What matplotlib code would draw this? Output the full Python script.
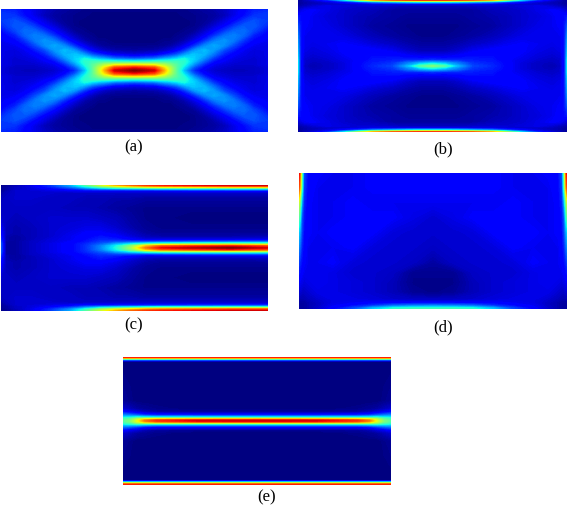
import numpy as np
import matplotlib
matplotlib.use("Agg")
import matplotlib.pyplot as plt

W, H = 567, 505

# ---- panel (a): upper-right quadrant, mirrored in both directions
a_dx = [0, 20, 30, 36, 42, 50, 60, 70, 80, 90, 100, 110, 120, 134]
a_dy = [0, 3, 6, 9, 12, 16, 20, 25, 30, 35, 40, 45, 50, 55, 61.5]
a_val = [
    [1.0, .93, .72, .58, .46, .30, .16, .10, .07, .06, .05, .05, .06, .08],
    [.88, .82, .66, .56, .46, .34, .20, .12, .08, .07, .06, .06, .06, .08],
    [.62, .60, .55, .50, .45, .38, .26, .16, .10, .08, .07, .07, .07, .09],
    [.38, .40, .42, .42, .42, .40, .31, .21, .13, .10, .08, .07, .07, .09],
    [.20, .23, .28, .30, .33, .37, .33, .26, .17, .12, .09, .08, .07, .09],
    [.08, .10, .14, .17, .20, .27, .32, .30, .23, .15, .11, .09, .08, .09],
    [.03, .04, .06, .08, .11, .17, .27, .31, .27, .19, .14, .10, .08, .09],
    [.01, .01, .02, .03, .05, .09, .16, .25, .29, .26, .19, .13, .10, .09],
    [.00, .00, .01, .01, .02, .04, .09, .16, .24, .27, .24, .17, .12, .10],
    [.00, .00, .00, .00, .01, .02, .05, .10, .17, .23, .25, .22, .15, .11],
    [.00, .00, .00, .00, .00, .01, .02, .06, .11, .17, .22, .23, .19, .13],
    [.00, .00, .00, .00, .00, .00, .01, .03, .07, .11, .17, .21, .21, .16],
    [.00, .00, .00, .00, .00, .00, .01, .02, .04, .08, .12, .17, .20, .18],
    [.00, .00, .00, .00, .00, .01, .01, .02, .03, .05, .09, .13, .17, .18],
    [.01, .01, .01, .01, .01, .01, .02, .03, .04, .06, .09, .12, .15, .16],
]

# ---- panel (b): upper-right quadrant
b_dx = [0, 12, 25, 40, 60, 75, 90, 105, 120, 128, 132, 134.5]
b_dy = [0, 3, 6, 10, 15, 22, 30, 40, 50, 56, 60, 62, 64, 66]
b_val = [
    [.50, .44, .30, .19, .16, .12, .08, .06, .04, .06, .14, .34],
    [.33, .30, .24, .17, .15, .12, .08, .06, .05, .07, .14, .34],
    [.17, .16, .16, .15, .14, .11, .09, .07, .06, .07, .14, .34],
    [.10, .10, .11, .13, .13, .12, .10, .08, .07, .08, .14, .32],
    [.05, .05, .07, .10, .12, .12, .11, .09, .08, .09, .14, .30],
    [.03, .03, .04, .06, .08, .10, .11, .10, .09, .10, .14, .28],
    [.01, .01, .02, .03, .05, .07, .09, .10, .10, .10, .14, .25],
    [.01, .01, .01, .02, .03, .05, .07, .09, .10, .11, .14, .20],
    [.02, .02, .02, .03, .04, .05, .07, .08, .10, .12, .13, .14],
    [.03, .03, .03, .03, .05, .06, .07, .09, .11, .10, .08, .07],
    [.05, .05, .05, .06, .07, .07, .08, .09, .07, .05, .04, .04],
    [.10, .10, .10, .09, .09, .08, .07, .06, .05, .04, .03, .03],
    [.35, .35, .33, .30, .25, .18, .12, .08, .05, .04, .03, .03],
    [.85, .85, .83, .80, .70, .52, .32, .16, .08, .05, .03, .03],
]

# ---- panel (c): upper half, mirrored vertically
c_x = [0, 5, 15, 30, 50, 70, 85, 100, 115, 130, 145, 160, 190, 230, 267]
c_dy = [0, 2, 4, 6, 8, 11, 15, 20, 30, 40, 50, 55, 57, 58.5, 60, 61.5, 63]
c_val = [
    [.20, .03, .03, .06, .09, .12, .17, .26, .38, .55, .78, .90, .95, 1.0, .92],
    [.20, .03, .03, .06, .09, .12, .17, .25, .36, .50, .68, .78, .82, .85, .80],
    [.20, .03, .03, .06, .09, .12, .16, .21, .28, .34, .40, .44, .46, .47, .46],
    [.18, .03, .03, .06, .08, .11, .14, .18, .20, .20, .20, .21, .22, .23, .23],
    [.16, .04, .03, .05, .08, .10, .13, .16, .15, .12, .09, .09, .09, .09, .10],
    [.14, .04, .03, .05, .07, .10, .12, .14, .12, .08, .05, .04, .04, .04, .05],
    [.12, .05, .04, .05, .07, .09, .11, .11, .09, .06, .03, .02, .02, .02, .02],
    [.10, .05, .04, .05, .07, .08, .09, .09, .07, .04, .02, .01, .01, .01, .01],
    [.07, .06, .05, .06, .07, .07, .07, .06, .05, .03, .01, .01, .00, .00, .00],
    [.06, .06, .06, .06, .06, .05, .05, .04, .03, .02, .01, .01, .01, .01, .01],
    [.05, .06, .07, .07, .06, .06, .05, .05, .04, .04, .03, .03, .03, .03, .03],
    [.03, .05, .07, .07, .07, .06, .06, .06, .06, .06, .06, .06, .06, .06, .06],
    [.02, .04, .07, .07, .08, .09, .10, .10, .10, .10, .10, .10, .11, .11, .11],
    [.02, .03, .06, .08, .10, .13, .17, .19, .20, .21, .22, .23, .24, .25, .25],
    [.02, .03, .06, .08, .13, .19, .27, .34, .38, .41, .44, .46, .47, .48, .48],
    [.01, .02, .05, .09, .16, .26, .38, .50, .58, .64, .70, .73, .75, .78, .78],
    [.01, .02, .05, .09, .18, .30, .45, .60, .72, .80, .85, .88, .90, .92, .92],
]

# ---- panel (d): right half, mirrored horizontally; rows run top to bottom
d_dx = [0, 20, 40, 60, 80, 100, 115, 125, 129, 131, 133, 134]
d_y = [0, 15, 30, 45, 60, 75, 90, 100, 110, 120, 127, 130, 133, 136]
d_val = [
    [.12, .12, .12, .11, .10, .10, .11, .12, .20, .45, .80, .90],
    [.11, .11, .11, .11, .10, .10, .10, .12, .18, .40, .72, .82],
    [.10, .10, .10, .10, .11, .10, .10, .11, .16, .28, .50, .58],
    [.07, .09, .11, .11, .11, .10, .10, .11, .14, .20, .38, .44],
    [.07, .07, .08, .11, .11, .11, .10, .11, .13, .18, .28, .32],
    [.06, .07, .07, .08, .11, .10, .10, .10, .12, .15, .22, .25],
    [.03, .06, .07, .07, .08, .11, .10, .10, .11, .13, .16, .18],
    [.015, .015, .06, .07, .07, .09, .10, .10, .10, .11, .13, .14],
    [.01, .01, .05, .07, .08, .09, .10, .09, .08, .09, .10, .10],
    [.01, .02, .05, .07, .08, .09, .09, .07, .06, .06, .07, .07],
    [.06, .06, .07, .08, .09, .09, .07, .05, .04, .04, .04, .04],
    [.11, .11, .11, .11, .10, .09, .06, .04, .03, .03, .03, .03],
    [.25, .24, .22, .17, .13, .10, .06, .04, .03, .03, .03, .03],
    [.42, .42, .40, .32, .20, .12, .07, .04, .03, .03, .03, .03],
]

# ---- panel (e): upper-right quadrant
e_dx = [0, 60, 100, 112, 120, 127, 134]
e_dy = [0, 1, 2, 3, 4, 6, 9, 12, 20, 59.5, 61, 62, 63, 64]
e_val = [
    [.93, .92, .86, .78, .62, .50, .45],
    [.86, .85, .80, .72, .60, .49, .44],
    [.65, .64, .62, .60, .54, .45, .42],
    [.44, .44, .44, .44, .44, .40, .38],
    [.30, .30, .30, .32, .34, .33, .32],
    [.12, .12, .13, .15, .19, .22, .24],
    [.02, .02, .03, .05, .08, .10, .13],
    [.00, .00, .01, .02, .03, .05, .07],
    [.00, .00, .00, .00, .00, .01, .02],
    [.00, .00, .00, .00, .00, .00, .00],
    [.20, .20, .20, .20, .20, .20, .20],
    [.45, .45, .45, .45, .45, .45, .45],
    [.72, .72, .72, .72, .72, .72, .72],
    [.88, .88, .88, .88, .88, .88, .88],
]

panel_labels = ["(a)", "(b)", "(c)", "(d)", "(e)"]


def mirror(coords, values, axis):
    c = np.asarray(coords, float)
    v = np.asarray(values, float)
    cc = np.concatenate([-c[:0:-1], c])
    vv = np.concatenate([np.flip(v, axis=axis)[:-1] if axis == 0 else np.flip(v, axis=axis)[:, :-1], v], axis=axis)
    return cc, vv


def add_axes(left, top, right, bottom):
    ax = fig.add_axes([left / W, 1 - bottom / H, (right - left) / W, (bottom - top) / H])
    ax.axis("off")
    return ax


fig = plt.figure(figsize=(W / 100, H / 100), dpi=100, facecolor="white")
levels = np.linspace(0, 1, 161)


def draw(ax, x, y, z, invert=False):
    ax.contourf(x, y, z, levels=levels, cmap="jet", extend="both")
    ax.set_xlim(x[0], x[-1])
    ax.set_ylim((y[-1], y[0]) if invert else (y[0], y[-1]))


# (a)
x, z = mirror(a_dx, a_val, 1)
y, z = mirror(a_dy, z, 0)
draw(add_axes(1, 9, 268, 132), x, y, z)
# (b)
x, z = mirror(b_dx, b_val, 1)
y, z = mirror(b_dy, z, 0)
draw(add_axes(298, 0, 567, 132), x, y, z)
# (c)
y, z = mirror(c_dy, c_val, 0)
draw(add_axes(1, 185, 268, 310.5), np.asarray(c_x, float), y, z)
# (d)
x, z = mirror(d_dx, d_val, 1)
draw(add_axes(299, 172.5, 567, 308.5), x, np.asarray(d_y, float), z, invert=True)
# (e)
x, z = mirror(e_dx, e_val, 1)
y, z = mirror(e_dy, z, 0)
draw(add_axes(123, 357, 391, 484.5), x, y, z)

label_pos = [(134, 147), (443, 149), (134, 325), (443, 327), (267, 497)]
for s, (px, py) in zip(panel_labels, label_pos):
    fig.text(px / W, 1 - py / H, s, family="Liberation Serif", fontsize=12,
             ha="center", va="center", color="black")

fig.savefig("out.png", dpi=100)
